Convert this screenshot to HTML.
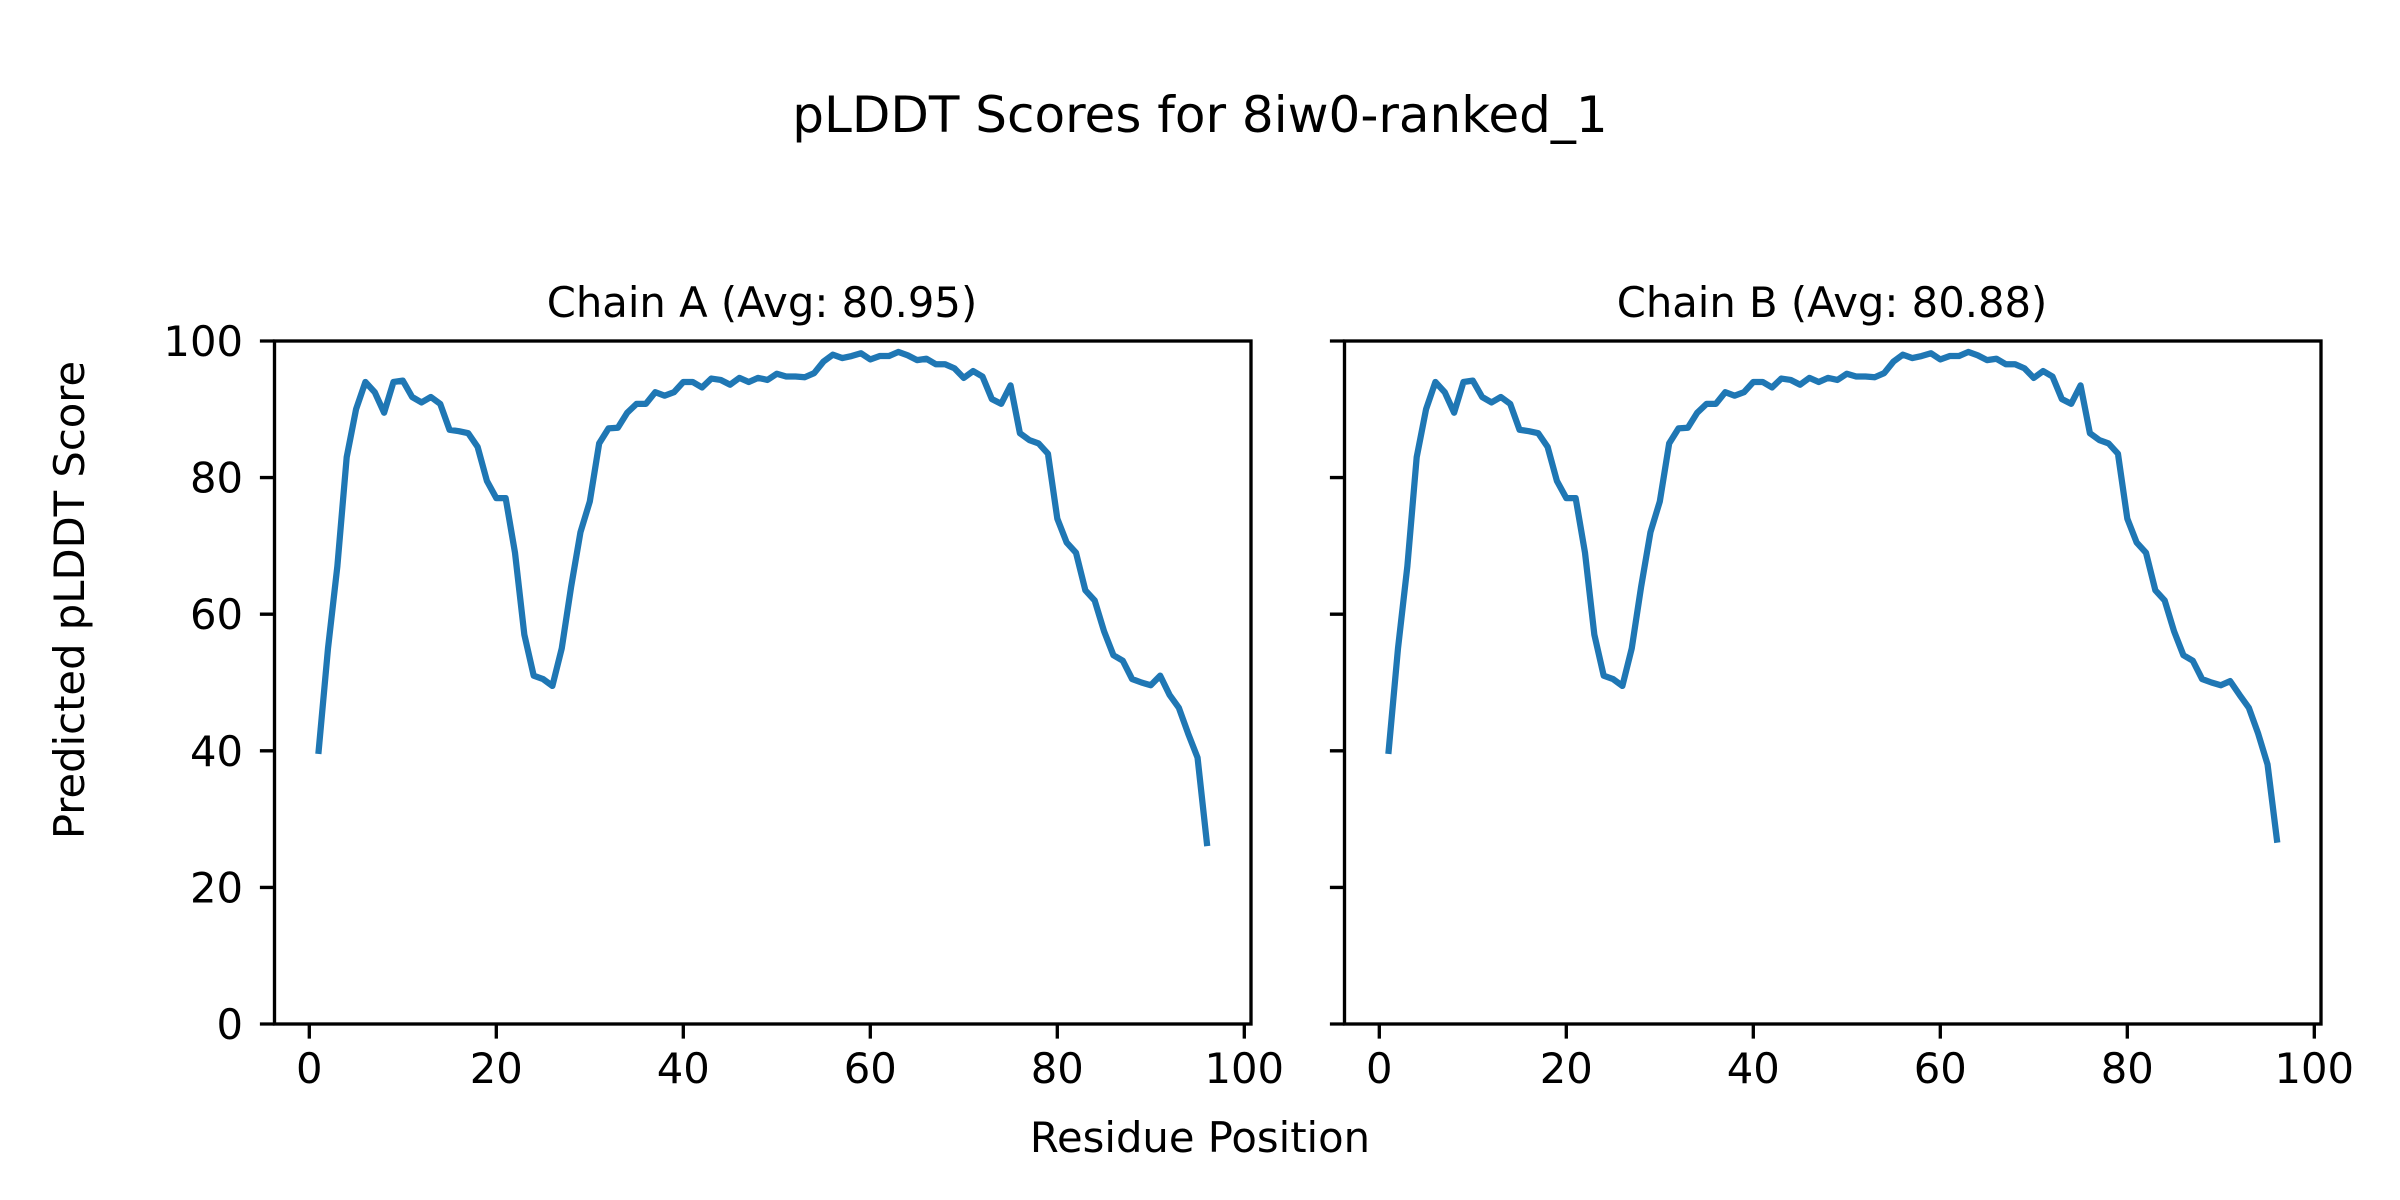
<!DOCTYPE html>
<html><head><meta charset="utf-8"><style>
html,body{margin:0;padding:0;background:#fff;}
svg{display:block;}
text{font-family:"DejaVu Sans","Liberation Sans",sans-serif;fill:#000;}
</style></head><body>
<svg width="2400" height="1200" viewBox="0 0 2400 1200" xmlns="http://www.w3.org/2000/svg">
<rect width="2400" height="1200" fill="#fff"/>
<text x="1200" y="132" font-size="50" text-anchor="middle">pLDDT Scores for 8iw0-ranked_1</text>
<text x="762" y="317" font-size="41.7" text-anchor="middle">Chain A (Avg: 80.95)</text>
<text x="1832" y="317" font-size="41.7" text-anchor="middle">Chain B (Avg: 80.88)</text>
<text x="1200" y="1152" font-size="41.7" text-anchor="middle">Residue Position</text>
<text transform="translate(84,600) rotate(-90)" font-size="41.7" text-anchor="middle">Predicted pLDDT Score</text>

<g fill="none" stroke="#1f77b4" stroke-width="6.25" stroke-linejoin="round" stroke-linecap="square">
<g transform="translate(309.3,1024) scale(9.35,-6.83)">
<polyline vector-effect="non-scaling-stroke" points="1,40 2,55 3,67 4,83 5,90 6,94 7,92.5 8,89.5 9,94 10,94.2 11,91.8 12,91 13,91.8 14,90.8 15,87 16,86.8 17,86.5 18,84.5 19,79.5 20,77 21,77 22,69 23,57 24,51 25,50.5 26,49.5 27,55 28,64 29,72 30,76.5 31,85 32,87.2 33,87.3 34,89.5 35,90.8 36,90.8 37,92.5 38,92 39,92.5 40,94 41,94 42,93.2 43,94.5 44,94.3 45,93.6 46,94.6 47,94 48,94.6 49,94.3 50,95.2 51,94.8 52,94.8 53,94.7 54,95.3 55,97 56,98 57,97.5 58,97.8 59,98.2 60,97.3 61,97.8 62,97.8 63,98.4 64,97.9 65,97.2 66,97.4 67,96.6 68,96.6 69,96 70,94.6 71,95.6 72,94.8 73,91.5 74,90.8 75,93.5 76,86.5 77,85.5 78,85 79,83.5 80,74 81,70.5 82,69 83,63.5 84,62 85,57.5 86,54 87,53.2 88,50.5 89,50 90,49.6 91,51 92,48.2 93,46.3 94,42.5 95,39 96,26.5"/>
</g>
<g transform="translate(1379.3,1024) scale(9.35,-6.83)">
<polyline vector-effect="non-scaling-stroke" points="1,40 2,55 3,67 4,83 5,90 6,94 7,92.5 8,89.5 9,94 10,94.2 11,91.8 12,91 13,91.8 14,90.8 15,87 16,86.8 17,86.5 18,84.5 19,79.5 20,77 21,77 22,69 23,57 24,51 25,50.5 26,49.5 27,55 28,64 29,72 30,76.5 31,85 32,87.2 33,87.3 34,89.5 35,90.8 36,90.8 37,92.5 38,92 39,92.5 40,94 41,94 42,93.2 43,94.5 44,94.3 45,93.6 46,94.6 47,94 48,94.6 49,94.3 50,95.2 51,94.8 52,94.8 53,94.7 54,95.3 55,97 56,98 57,97.5 58,97.8 59,98.2 60,97.3 61,97.8 62,97.8 63,98.4 64,97.9 65,97.2 66,97.4 67,96.6 68,96.6 69,96 70,94.6 71,95.6 72,94.8 73,91.5 74,90.8 75,93.5 76,86.5 77,85.5 78,85 79,83.5 80,74 81,70.5 82,69 83,63.5 84,62 85,57.5 86,54 87,53.2 88,50.5 89,50 90,49.6 91,50.2 92,48.2 93,46.3 94,42.5 95,38 96,27"/>
</g>
</g>

<g fill="none" stroke="#000" stroke-width="3.33" stroke-linecap="square">
<rect x="274.5" y="341" width="976.5" height="683"/>
<rect x="1344.5" y="341" width="976.5" height="683"/>
</g>
<g stroke="#000" stroke-width="3.33">
<path d="M309.3 1024v14.6M496.3 1024v14.6M683.3 1024v14.6M870.3 1024v14.6M1057.3 1024v14.6M1244.3 1024v14.6"/>
<path d="M1379.3 1024v14.6M1566.3 1024v14.6M1753.3 1024v14.6M1940.3 1024v14.6M2127.3 1024v14.6M2314.3 1024v14.6"/>
<path d="M274.5 1024h-14.6M274.5 887.4h-14.6M274.5 750.8h-14.6M274.5 614.2h-14.6M274.5 477.6h-14.6M274.5 341h-14.6"/>
<path d="M1344.5 1024h-14.6M1344.5 887.4h-14.6M1344.5 750.8h-14.6M1344.5 614.2h-14.6M1344.5 477.6h-14.6M1344.5 341h-14.6"/>
</g>
<g font-size="41.7" text-anchor="middle">
<text x="309.3" y="1083">0</text><text x="496.3" y="1083">20</text><text x="683.3" y="1083">40</text><text x="870.3" y="1083">60</text><text x="1057.3" y="1083">80</text><text x="1244.3" y="1083">100</text>
<text x="1379.3" y="1083">0</text><text x="1566.3" y="1083">20</text><text x="1753.3" y="1083">40</text><text x="1940.3" y="1083">60</text><text x="2127.3" y="1083">80</text><text x="2314.3" y="1083">100</text>
</g>
<g font-size="41.7" text-anchor="end">
<text x="243" y="1039">0</text><text x="243" y="902.4">20</text><text x="243" y="765.8">40</text><text x="243" y="629.2">60</text><text x="243" y="492.6">80</text><text x="243" y="356">100</text>
</g>
</svg>
</body></html>
